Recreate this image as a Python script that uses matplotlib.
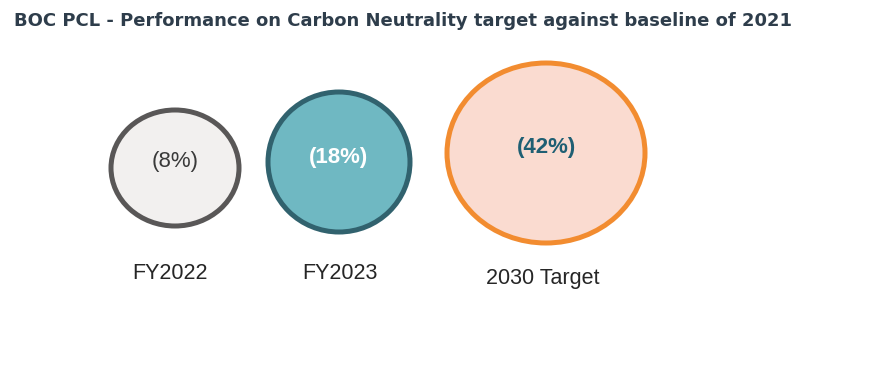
import matplotlib.pyplot as plt
from matplotlib.patches import Ellipse

# --- data ---
categories = ['FY2022', 'FY2023', '2030 Target']
reduction = [8, 18, 42]  # % reduction against 2021 baseline

# --- layout (pixel coordinates) ---
centres = [(175, 168), (339, 162), (546, 153)]
radii = [(64, 58), (71, 70), (99, 90)]
label_pos = [(170, 279), (340, 279), (543, 284)]  # baselines
faces = ['#F2F0EF', '#6FB8C2', '#FADBD0']
edges = ['#595757', '#31626E', '#F28C30']
txt_col = ['#3A3A3A', '#FFFFFF', '#1F5F73']
txt_bold = ['normal', 'bold', 'bold']
txt_dy = [-6, -5, -5]

fig = plt.figure(figsize=(8.77, 3.91), dpi=100)
ax = fig.add_axes([0, 0, 1, 1])
ax.set_xlim(0, 877)
ax.set_ylim(391, 0)
ax.axis('off')

fig.text(14 / 877, 1 - 21 / 391, 'BOC PCL - Performance on Carbon Neutrality target against baseline of 2021',
         fontsize=12.95, fontweight='bold', color='#2E3D4B', va='center', ha='left',
         family='DejaVu Sans')

for i, cat in enumerate(categories):
    (cx, cy), (rx, ry) = centres[i], radii[i]
    ax.add_patch(Ellipse((cx, cy), 2 * rx, 2 * ry, facecolor=faces[i],
                         edgecolor=edges[i], lw=3.6))
    ax.text(cx, cy + txt_dy[i], '({}%)'.format(reduction[i]), ha='center', va='center',
            fontsize=16, color=txt_col[i], fontweight=txt_bold[i], family='Liberation Sans')
    ax.text(label_pos[i][0], label_pos[i][1], cat, ha='center', va='baseline',
            fontsize=15.5, color='#262626', family='Liberation Sans')

fig.savefig('out.png', dpi=100)
